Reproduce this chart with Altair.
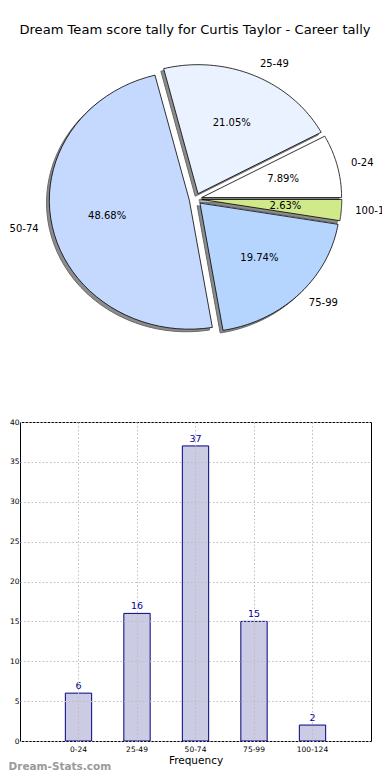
import altair as alt
import pandas as pd

# ---- data -------------------------------------------------------------
labels = ["0-24", "25-49", "50-74", "75-99", "100-124"]
counts = [6, 16, 37, 15, 2]
pie_colors = ["#ffffff", "#ebf2ff", "#c5d9ff", "#b5d5ff", "#d0ea8a"]
title_text = "Dream Team score tally for Curtis Taylor - Career tally"
x_title = "Frequency"
watermark = "Dream-Stats.com"
y_ticks = [0, 5, 10, 15, 20, 25, 30, 35, 40]

df = pd.DataFrame({"label": labels, "count": counts, "order": list(range(len(labels)))})
bar_df = pd.DataFrame({"label": labels, "count": counts})
title_df = pd.DataFrame({"t": [title_text]})
wm_df = pd.DataFrame({"t": [watermark]})

# ---- layout / style constants ---------------------------------------
FONT = "DejaVu Sans"
LEFT = 11.5            # left extent of the bar chart's y axis labels
PIE_W, PIE_H = 362, 390
CX, CY = 187 - LEFT, 191   # pixel centre of the pie inside its panel
RX, RY = 140, 129      # pixel size of radius 1 (elliptical, like the original)
EXPLODE = 0.045
SHADOW = 0.02
N = 48

xs = alt.Scale(domain=[-CX / RX, (PIE_W - CX) / RX], nice=False, zero=False)
ys = alt.Scale(domain=[-(PIE_H - CY) / RY, CY / RY], nice=False, zero=False)

pie_base = (
    alt.Chart(df)
    .transform_joinaggregate(total="sum(count)")
    .transform_window(cum="sum(count)", sort=[alt.SortField("order")], frame=[None, 0])
    .transform_calculate(a1="2*PI*(datum.cum - datum.count)/datum.total")
    .transform_calculate(a2="2*PI*datum.cum/datum.total")
    .transform_calculate(mid="(datum.a1 + datum.a2)/2")
)

poly = (
    pie_base.transform_calculate(pts=f"sequence(0, {N + 3})")
    .transform_flatten(["pts"], as_=["i"])
    .transform_calculate(t=f"clamp((datum.i - 1)/{N}, 0, 1)")
    .transform_calculate(tip=f"datum.i == 0 || datum.i == {N + 2}")
    .transform_calculate(ang="datum.a1 + (datum.a2 - datum.a1)*datum.t")
    .transform_calculate(px=f"{EXPLODE}*cos(datum.mid) + (datum.tip ? 0 : cos(datum.ang))")
    .transform_calculate(py=f"{EXPLODE}*sin(datum.mid) + (datum.tip ? 0 : sin(datum.ang))")
    .transform_calculate(sx=f"datum.px - {SHADOW}")
    .transform_calculate(sy=f"datum.py - {SHADOW}")
)

shadow = poly.mark_line(strokeWidth=1).encode(
    x=alt.X("sx:Q", scale=xs, axis=None),
    y=alt.Y("sy:Q", scale=ys, axis=None),
    detail="label:N",
    order="i:Q",
    fill=alt.value("#8c8c8c"),
    stroke=alt.value("#6a6a6a"),
)

wedges = poly.mark_line(strokeWidth=0.8).encode(
    x=alt.X("px:Q", scale=xs, axis=None),
    y=alt.Y("py:Q", scale=ys, axis=None),
    detail="label:N",
    order="i:Q",
    fill=alt.Fill("label:N", scale=alt.Scale(domain=labels, range=pie_colors), legend=None),
    stroke=alt.value("black"),
)

lab = pie_base.transform_calculate(
    lx=f"({EXPLODE} + 1.1)*cos(datum.mid)"
).transform_calculate(
    ly=f"({EXPLODE} + 1.1)*sin(datum.mid)"
)
lab_right = lab.transform_filter("datum.lx > 0").mark_text(
    align="left", baseline="middle", font=FONT, fontSize=10, color="black", clip=True
).encode(
    x=alt.X("lx:Q", scale=xs, axis=None),
    y=alt.Y("ly:Q", scale=ys, axis=None),
    text="label:N",
)
lab_left = lab.transform_filter("datum.lx <= 0").mark_text(
    align="right", baseline="middle", font=FONT, fontSize=10, color="black"
).encode(
    x=alt.X("lx:Q", scale=xs, axis=None),
    y=alt.Y("ly:Q", scale=ys, axis=None),
    text="label:N",
)
pct = pie_base.transform_calculate(
    qx=f"{EXPLODE}*cos(datum.mid) + 0.6*cos(datum.mid)"
).transform_calculate(
    qy=f"{EXPLODE}*sin(datum.mid) + 0.6*sin(datum.mid)"
).transform_calculate(
    pct="format(datum.count/datum.total, '.2%')"
).mark_text(
    align="center", baseline="middle", font=FONT, fontSize=10, color="black"
).encode(
    x=alt.X("qx:Q", scale=xs, axis=None),
    y=alt.Y("qy:Q", scale=ys, axis=None),
    text="pct:N",
)

title = alt.Chart(title_df).mark_text(
    align="center", baseline="middle", font=FONT, fontSize=13.1, color="black"
).encode(x=alt.value(186.5 - LEFT), y=alt.value(22), text="t:N")

pie_layer = alt.layer(shadow, wedges, lab_right, lab_left, pct, title).properties(
    width=PIE_W, height=PIE_H
)

# ---- bar chart -----------------------------------------------------
GRID = dict(grid=True, gridDash=[1.5, 2.2], gridColor="#bdbdbd", gridWidth=1)
xb = alt.X(
    "label:N",
    sort=labels,
    scale=alt.Scale(paddingInner=0.55, paddingOuter=0.775),
    axis=alt.Axis(
        title=x_title, labelAngle=0, ticks=False, domain=False, bandPosition=0.5,
        labelFont=FONT, labelFontSize=7.5, labelPadding=4, labelColor="black",
        titleFont=FONT, titleFontSize=10.5, titleFontWeight="normal", titleColor="black",
        titlePadding=3, zindex=1, **GRID,
    ),
)
yb = alt.Y(
    "count:Q",
    scale=alt.Scale(domain=[0, 40], nice=False),
    axis=alt.Axis(
        title=None, values=y_ticks, ticks=False, domain=False,
        labelFont=FONT, labelFontSize=7.5, labelPadding=1, labelColor="black",
        zindex=1, **GRID,
    ),
)

bars = alt.Chart(bar_df).mark_bar(fill="#cbcbe4", stroke="#000080", strokeWidth=1).encode(x=xb, y=yb)
vals = alt.Chart(bar_df).mark_text(
    baseline="bottom", dy=-2, color="#000099", font=FONT, fontSize=9.5
).encode(x=xb, y=yb, text="count:Q")
wm = alt.Chart(wm_df).mark_text(
    align="left", baseline="middle", font=FONT, fontSize=10.5, fontWeight="bold", color="#9a9a9a"
).encode(x=alt.value(-LEFT), y=alt.value(345), text="t:N")

bar_layer = alt.layer(bars, vals, wm).properties(
    width=351, height=319, view=alt.ViewBackground(stroke="black", strokeWidth=1)
)

chart = (
    alt.vconcat(pie_layer, bar_layer, spacing=19)
    .properties(padding=0)
    .configure_view(stroke=None)
)

chart.save("out.html", embed_options={"renderer": "svg", "actions": False})
